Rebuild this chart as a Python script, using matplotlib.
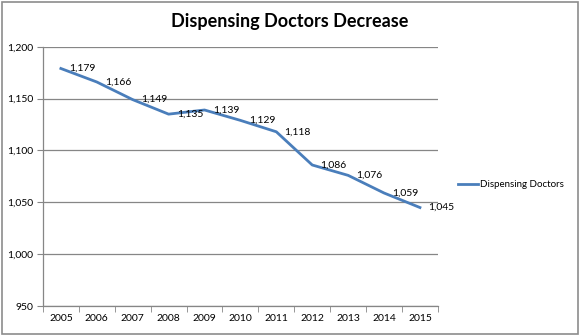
import matplotlib
matplotlib.use("Agg")
from matplotlib import pyplot as plt
from matplotlib.patches import Rectangle
import numpy as np

years = ["2005", "2006", "2007", "2008", "2009", "2010",
         "2011", "2012", "2013", "2014", "2015"]
doctors = [1179, 1166, 1149, 1135, 1139, 1129, 1118, 1086, 1076, 1059, 1045]
series_name = "Dispensing Doctors"
y_ticks = [950, 1000, 1050, 1100, 1150, 1200]

plt.rcParams['font.family'] = ['Lato', 'DejaVu Sans']
grey = "#868686"
blue = "#4A7EBB"

fig = plt.figure(figsize=(5.8, 3.36), dpi=100)
fig.patches.append(Rectangle((0.004, 0.005), 0.992, 0.99, transform=fig.transFigure,
                             fill=False, edgecolor="#8c8c8c", linewidth=1.2))
ax = fig.add_axes([0.074, 0.089, 0.681, 0.772])

x = np.arange(len(years))
line, = ax.plot(x, doctors, color=blue, linewidth=2.0, label=series_name)
for xi, v in zip(x, doctors):
    ax.annotate(f"{v:,}", (xi, v), xytext=(6, 0), textcoords="offset points",
                ha="left", va="center", fontsize=7.5, color="black")

ax.set_xlim(-0.5, len(years) - 0.5)
ax.set_ylim(950, 1200)
ax.set_yticks(y_ticks)
ax.set_yticklabels([f"{t:,}" for t in y_ticks], fontsize=7.5)
ax.set_xticks(x)
ax.set_xticklabels(years, fontsize=7.5)
ax.set_xticks(np.arange(-0.5, len(years)), minor=True)
ax.tick_params(axis="x", which="major", length=0, pad=6)
ax.tick_params(axis="x", which="minor", length=4, color=grey)
ax.tick_params(axis="y", length=4, color=grey, pad=3)
ax.yaxis.grid(True, color=grey, linewidth=0.9)
ax.set_axisbelow(True)
for s in ["top", "right"]:
    ax.spines[s].set_visible(False)
for s in ["left", "bottom"]:
    ax.spines[s].set_color(grey)
    ax.spines[s].set_linewidth(0.9)

fig.text(0.5, 0.935, "Dispensing Doctors Decrease", ha="center", va="center",
         fontsize=13, fontweight="bold")
fig.legend(handles=[line], loc="center left", bbox_to_anchor=(0.775, 0.45),
           frameon=False, fontsize=7, handlelength=2.0, handletextpad=0.2)

fig.savefig("out.png", dpi=100)
